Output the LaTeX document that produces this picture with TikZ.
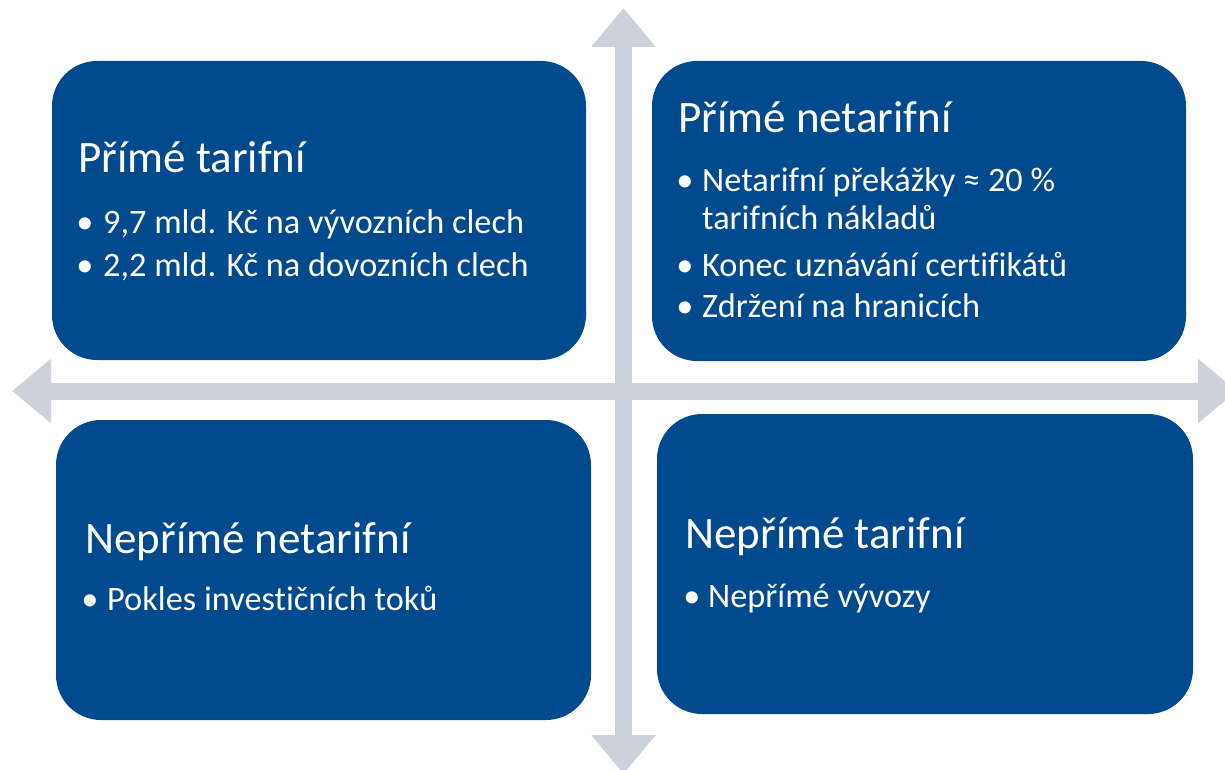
\documentclass[tikz,border=0pt]{standalone}
\usepackage{fontspec}
\setmainfont{Carlito}[Ligatures={NoCommon}]
\usetikzlibrary{arrows.meta}
\definecolor{boxblue}{RGB}{0,74,141}
\definecolor{crossgrey}{RGB}{205,209,220}
\tikzset{
  quad/.style={fill=boxblue, draw=none, rounded corners=45pt, inner sep=0pt},
  crossarrow/.style={draw=crossgrey, line width=17pt,
    {Triangle[length=39pt,width=62pt,fill=crossgrey,color=crossgrey]}-{Triangle[length=39pt,width=62pt,fill=crossgrey,color=crossgrey]}},
  title/.style={anchor=base west, inner sep=0pt, text=white, font=\fontsize{45}{54}\selectfont},
  item/.style={anchor=base west, inner sep=0pt, text=white, font=\fontsize{34.3}{41}\selectfont},
  dot/.style={anchor=base, inner sep=0pt, text=white, font=\fontsize{34.3}{41}\selectfont},
}
\begin{document}
\begin{tikzpicture}[x=1pt,y=-1pt]
\useasboundingbox (0,0) rectangle (1225,770);
\clip (0,0) rectangle (1225,770);
% cross arrows
\coordinate (top) at (623.5,8);
\coordinate (bottom) at (623.5,774);
\coordinate (left) at (12,391);
\coordinate (right) at (1237,391);
\draw[crossarrow] (top) -- (bottom);
\draw[crossarrow] (left) -- (right);
% boxes
\node[quad, minimum width=534pt, minimum height=299pt] (tl) at (319,210.5) {};
\node[quad, minimum width=534pt, minimum height=300pt] (tr) at (919,211) {};
\node[quad, minimum width=535pt, minimum height=300pt] (bl) at (323.5,570) {};
\node[quad, minimum width=536pt, minimum height=300pt] (br) at (925,564) {};
% top left
\node[title] (tlt) at (78,172) {Přímé tarifní};
\node[dot] (tlb1) at (85,233) {•};
\node[item] (tli1) at (103,233) {9,7 mld. Kč na vývozních clech};
\node[dot] (tlb2) at (85,276) {•};
\node[item] (tli2) at (103,276) {2,2 mld. Kč na dovozních clech};
% top right
\node[title] (trt) at (678,133) {Přímé netarifní};
\node[dot] (trb1) at (685,192) {•};
\node[item] (tri1) at (702,192) {Netarifní překážky ≈ 20 \%};
\node[item] (tri1b) at (702,229) {tarifních nákladů};
\node[dot] (trb2) at (685,276) {•};
\node[item] (tri2) at (702,276) {Konec uznávání certifikátů};
\node[dot] (trb3) at (685,317) {•};
\node[item] (tri3) at (702,317) {Zdržení na hranicích};
% bottom left
\node[title] (blt) at (85,553) {Nepřímé netarifní};
\node[dot] (blb1) at (90,610) {•};
\node[item] (bli1) at (107,610) {Pokles investičních toků};
% bottom right
\node[title] (brt) at (685,548) {Nepřímé tarifní};
\node[dot] (brb1) at (692,607) {•};
\node[item] (bri1) at (708,607) {Nepřímé vývozy};
\end{tikzpicture}
\end{document}
